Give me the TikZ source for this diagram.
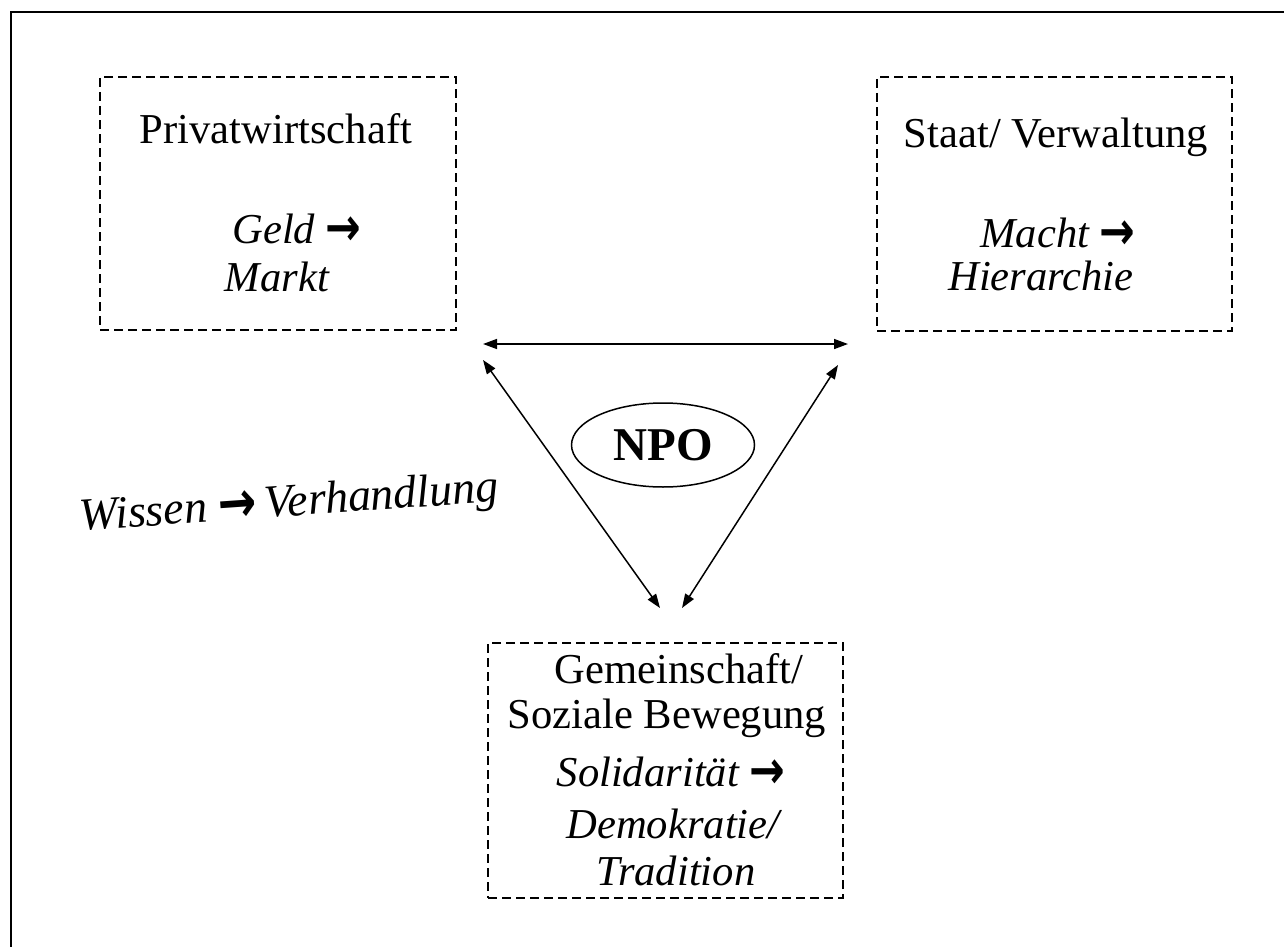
\documentclass[tikz,border=0pt]{standalone}
\usepackage{fontspec}
\setmainfont{Liberation Serif}
\newfontfamily\arrowfont{DejaVu Sans}
\usetikzlibrary{shapes.geometric,arrows.meta}
\newcommand{\rarr}{{\arrowfont\bfseries\upshape\raisebox{-0.05em}{\scalebox{1}[1.25]{→}}}}
\begin{document}
\begin{tikzpicture}[x=0.5pt,y=-0.5pt,
  dbox/.style={draw, dashed, dash pattern=on 4.5pt off 2.5pt, line width=0.8pt, inner sep=0pt},
  lbl/.style={anchor=base, inner sep=0pt, font=\fontsize{21.3}{23}\selectfont},
  ilbl/.style={lbl, font=\fontsize{21.3}{23}\selectfont\itshape},
  conn/.style={line width=0.75pt, {Triangle[length=7pt,width=5pt]}-{Triangle[length=7pt,width=5pt]}}
]
\useasboundingbox (0,0) rectangle (1284,947);
\coordinate (fr1) at (1284,12);
\coordinate (fr2) at (11,12);
\coordinate (fr3) at (11,947);
\draw[line width=0.8pt] (fr1) -- (fr2) -- (fr3);

% boxes
\node[dbox, minimum width=178pt, minimum height=126.5pt] (pw) at (278,203.5) {};
\node[dbox, minimum width=177.5pt, minimum height=127pt] (st) at (1054.5,204) {};
\node[dbox, minimum width=177.5pt, minimum height=127.5pt] (gs) at (665.5,770.5) {};

% texts
\node[lbl] (pw1) at (276,143) {Privatwirtschaft};
\node[ilbl] (pw2) at (297,243) {Geld \rarr};
\node[ilbl] (pw3) at (277,291) {Markt};

\node[lbl] (st1) at (1056,148) {Staat/ Verwaltung};
\node[ilbl] (st2) at (1058,247) {Macht \rarr};
\node[ilbl] (st3) at (1041,290) {Hierarchie};

\node[lbl] (gs1) at (679,683) {Gemeinschaft/};
\node[lbl] (gs2) at (667,728) {Soziale Bewegung};
\node[ilbl] (gs3) at (671,786) {Solidarität \rarr};
\node[ilbl] (gs4) at (673,838) {Demokratie/};
\node[ilbl] (gs5) at (676,885) {Tradition};

% NPO
\node[draw, ellipse, line width=0.75pt, minimum width=91.5pt, minimum height=42pt, inner sep=0pt,
  font=\fontsize{23.5}{25}\selectfont\bfseries] (npo) at (663,445) {NPO};

% Wissen -> Verhandlung
\node[anchor=base, inner sep=0pt, rotate=4, font=\fontsize{23}{25}\selectfont\itshape] (wv) at (290,516)
  {Wissen \rarr\,Verhandlung};

% connectors
\coordinate (a1) at (483,344);
\coordinate (a2) at (848,344);
\coordinate (b1) at (483,360);
\coordinate (b2) at (660,608);
\coordinate (c1) at (838,365);
\coordinate (c2) at (682,608);
\draw[conn] (a1) -- (a2);
\draw[conn] (b1) -- (b2);
\draw[conn] (c1) -- (c2);
\end{tikzpicture}
\end{document}
